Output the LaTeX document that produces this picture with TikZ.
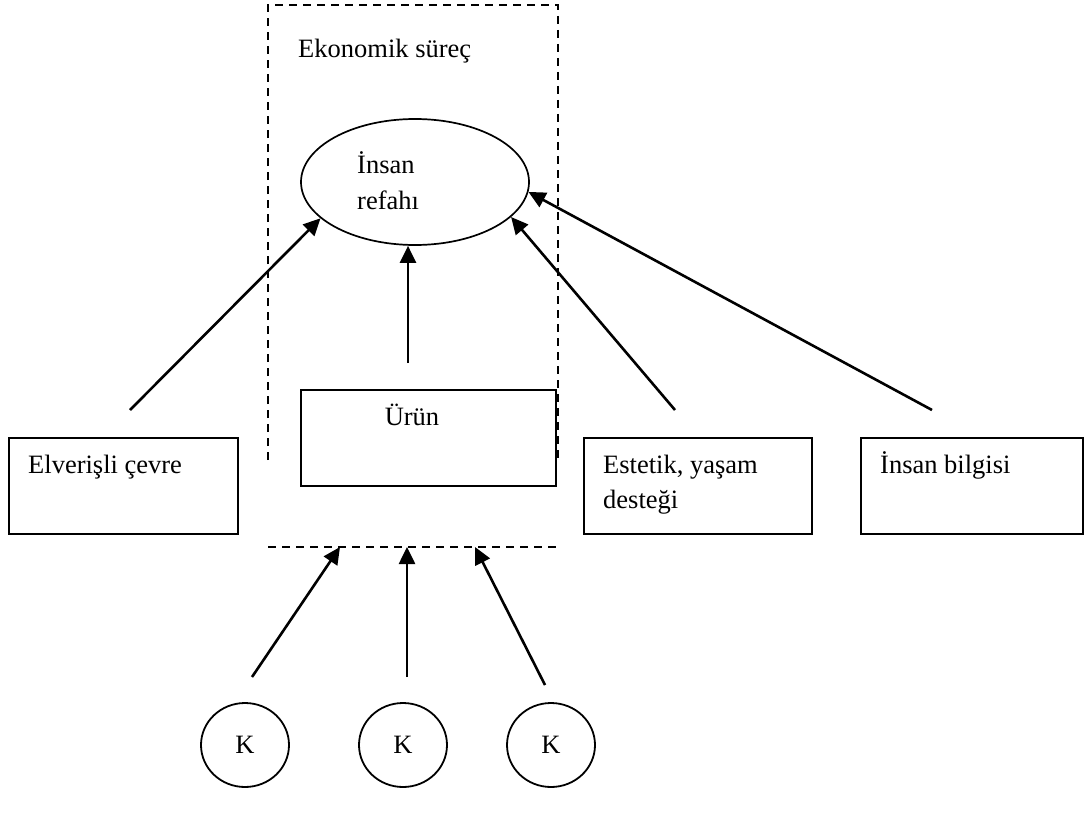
\documentclass[tikz,border=0pt]{standalone}
\usepackage{fontspec}
\setmainfont{Liberation Serif}
\usetikzlibrary{arrows.meta,shapes.geometric}
\begin{document}
\begin{tikzpicture}[x=1pt,y=-1pt,
  every node/.style={font=\fontsize{26.5}{35}\selectfont},
  boxnode/.style={draw,line width=2.1pt,anchor=north west,inner sep=0pt},
  txt/.style={anchor=base west,inner sep=0pt,align=left},
  arr/.style={draw,line width=2.6pt,-{Triangle[length=17pt,width=16pt]}},
  dashline/.style={draw,line width=1.7pt,dash pattern=on 8pt off 6pt},
  knode/.style={draw,ellipse,line width=1.8pt,minimum width=88pt,minimum height=84pt,inner sep=0pt}]
\useasboundingbox (0,0) rectangle (1089,824);
% dashed economic process frame
\draw[dashline] (268,460) -- (268,5) -- (558,5) -- (558,460);
\draw[dashline] (268,547) -- (558,547);
\node[txt] (eko) at (298,58) {Ekonomik süreç};
% ellipse
\node[draw,ellipse,line width=1.7pt,minimum width=228pt,minimum height=126pt,inner sep=0pt] (ell) at (415,182) {};
\node[txt] (ins1) at (357,173) {İnsan};
\node[txt] (ins2) at (357,209) {refahı};
% boxes
\node[boxnode,minimum width=255pt,minimum height=96pt] (urun) at (300,389) {};
\node[anchor=base,inner sep=0pt] (urunt) at (412,425) {Ürün};
\node[boxnode,minimum width=229pt,minimum height=96pt] (elv) at (8,437) {};
\node[txt] (elvt) at (28,473) {Elverişli çevre};
\node[boxnode,minimum width=228pt,minimum height=96pt] (est) at (583,437) {};
\node[txt] (estt1) at (603,473) {Estetik, yaşam};
\node[txt] (estt2) at (603,508) {desteği};
\node[boxnode,minimum width=222pt,minimum height=96pt] (bil) at (860,437) {};
\node[txt] (bilt) at (880,473) {İnsan bilgisi};
% arrows to ellipse
\coordinate (s1) at (130,410);
\coordinate (s2) at (408,363);
\coordinate (s3) at (675,410);
\coordinate (s4) at (932,410);
\draw[arr] (s1) -- (ell.201);
\draw[arr] (s2) -- (s2 |- ell.south);
\draw[arr] (s3) -- (ell.340);
\draw[arr] (s4) -- (ell.355);
% K nodes
\node[knode] (k1) at (245,745) {K};
\node[knode] (k2) at (403,745) {K};
\node[knode] (k3) at (551,745) {K};
\coordinate (t1) at (252,677);
\coordinate (t2) at (407,677);
\coordinate (t3) at (545,685);
\coordinate (d1) at (340,547);
\coordinate (d2) at (407,547);
\coordinate (d3) at (475,547);
\draw[arr] (t1) -- (d1);
\draw[arr] (t2) -- (d2);
\draw[arr] (t3) -- (d3);
\end{tikzpicture}
\end{document}
